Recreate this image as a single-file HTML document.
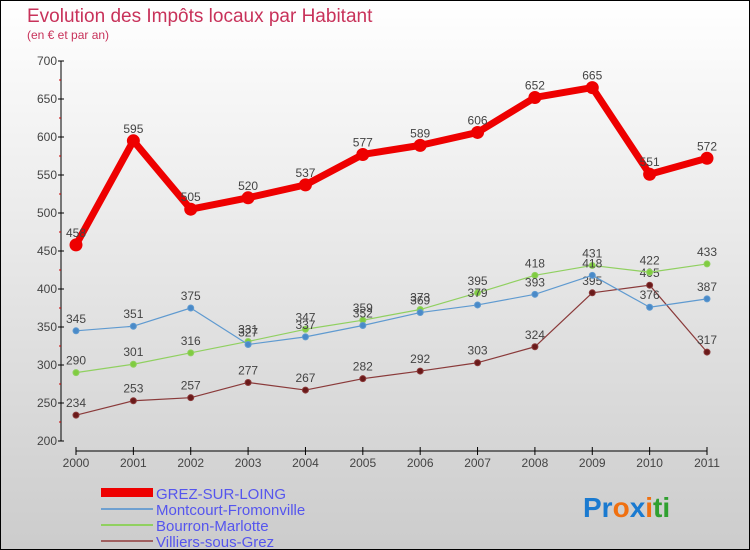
<!DOCTYPE html>
<html><head><meta charset="utf-8"><style>
body{margin:0}
#c{width:748px;height:548px;border:1px solid #000;background:linear-gradient(#fff,#ccc);position:relative;font-family:"Liberation Sans",sans-serif;overflow:hidden}
</style></head><body>
<div id="c">
<svg width="748" height="548" xmlns="http://www.w3.org/2000/svg" id="svg">
<text x="26" y="21" font-size="19" fill="#c8325a">Evolution des Impôts locaux par Habitant</text>
<text x="26" y="38" font-size="12" fill="#c8325a">(en € et par an)</text>
<g id="axes"></g><g id="series"></g>
<g>
<rect x="100" y="487" width="52" height="9" fill="#e00"/>
<text x="155" y="498" font-size="15" fill="#5555ee">GREZ-SUR-LOING</text>
<line x1="100" y1="508" x2="152" y2="508" stroke="#6fa0d0" stroke-width="2"/>
<text x="155" y="514" font-size="15" fill="#5555ee">Montcourt-Fromonville</text>
<line x1="100" y1="524" x2="152" y2="524" stroke="#90d060" stroke-width="2"/>
<text x="155" y="530" font-size="15" fill="#5555ee">Bourron-Marlotte</text>
<line x1="100" y1="540" x2="152" y2="540" stroke="#a06060" stroke-width="2"/>
<text x="155" y="546" font-size="15" fill="#5555ee">Villiers-sous-Grez</text>
</g>
<text x="582" y="516" font-size="28" font-weight="bold"><tspan fill="#1a7ad0">Pr</tspan><tspan fill="#f07010">o</tspan><tspan fill="#1a7ad0">x</tspan><tspan fill="#f07010">i</tspan><tspan fill="#30a030">ti</tspan></text>
</svg></div>
<script>
const years=["2000","2001","2002","2003","2004","2005","2006","2007","2008","2009","2010","2011"];
const yTicks=[200,250,300,350,400,450,500,550,600,650,700];
const grez=[458,595,505,520,537,577,589,606,652,665,551,572];
const montcourt=[345,351,375,327,337,352,369,379,393,418,376,387];
const bourron=[290,301,316,331,347,359,373,395,418,431,422,433];
const villiers=[234,253,257,277,267,282,292,303,324,395,405,317];
const NS="http://www.w3.org/2000/svg";
const X=i=>75+i*(706-75)/(years.length-1);
const Y=v=>440-(v-200)*(380/500);
function mk(t,a,p){const e=document.createElementNS(NS,t);for(const k in a)e.setAttribute(k,a[k]);p.appendChild(e);return e;}
const ax=document.getElementById('axes');
const yl=mk('line',{x1:60,y1:Y(700),x2:60,y2:Y(200),stroke:'#000'},ax);


yTicks.forEach(v=>{
 mk('line',{x1:57,y1:Y(v),x2:63,y2:Y(v),stroke:'#000'},ax);
 mk('line',{x1:58,y1:Y(v+25),x2:60,y2:Y(v+25),stroke:v<700?'#c00':'none'},ax);
 const t=mk('text',{x:56,y:Y(v)+4,'font-size':12,fill:'#444','text-anchor':'end'},ax);t.textContent=v;
 
 
});
const xl=mk('line',{x1:X(0),y1:450,x2:X(11),y2:450,stroke:'#000'},ax);


years.forEach((y,i)=>{
 mk('line',{x1:X(i),y1:446,x2:X(i),y2:454,stroke:'#000'},ax);
 const t=mk('text',{x:X(i),y:466,'font-size':12,fill:'#444','text-anchor':'middle'},ax);t.textContent=y;
 
 
});
const sg=document.getElementById('series');
function draw(data,name,color,w,r,dot){
 const p=mk('polyline',{points:data.map((v,i)=>X(i)+','+Y(v)).join(' '),fill:'none',stroke:color,'stroke-width':w,'stroke-linejoin':'round'},sg);
 
 
 data.forEach((v,i)=>{
  const c=mk('circle',{cx:X(i),cy:Y(v),r:r,fill:dot,stroke:color,'stroke-width':1},sg);
  
  
  const t=mk('text',{x:X(i),y:Y(v)-8,'font-size':12,fill:'#444','text-anchor':'middle'},sg);t.textContent=v;
  
  
 });
}
draw(villiers,'villiers','#8a3a3a',1.2,3,'#6a1a1a');
draw(bourron,'bourron','#90d060',1.2,3,'#80cc40');
draw(montcourt,'montcourt','#5f9ad0',1.2,3,'#4a8ac8');
draw(grez,'grez','#e00',7,6,'#e00');
</script>
</body></html>
